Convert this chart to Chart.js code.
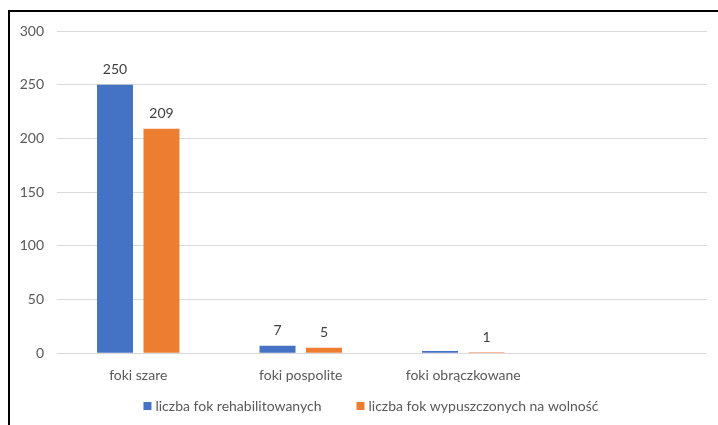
<!DOCTYPE html>
<html>
<head>
<meta charset="utf-8">
<script src="https://cdn.jsdelivr.net/npm/chart.js@4.4.0/dist/chart.umd.min.js"></script>
<style>
  html, body { margin: 0; padding: 0; background: #fff; }
  #wrap { width: 718px; height: 425px; position: relative; }
</style>
</head>
<body>
<div id="wrap"><canvas id="sealChart"></canvas></div>
<script>
const categories = ["foki szare", "foki pospolite", "foki obrączkowane", ""];
const rehabilitated = [250, 7, 2, null];
const released = [209, 5, 1, null];
// which bars get a value label on top
const rehabLabelled = [true, true, false, false];
const releasedLabelled = [true, true, true, false];
const yTicks = [0, 50, 100, 150, 200, 250, 300];

const FONT = "Lato, 'Open Sans', sans-serif";

// thin black frame on the top and left edge
const framePlugin = {
  id: "frame",
  afterDraw(chart) {
    const ctx = chart.ctx;
    ctx.save();
    ctx.strokeStyle = "#000";
    ctx.lineWidth = 2;
    ctx.beginPath();
    ctx.moveTo(9, chart.height);
    ctx.lineTo(9, 11);
    ctx.lineTo(chart.width, 11);
    ctx.stroke();
    ctx.restore();
  },
};

// value labels above bars
const valueLabels = {
  id: "valueLabels",
  afterDatasetsDraw(chart) {
    const ctx = chart.ctx;
    const flags = [rehabLabelled, releasedLabelled];
    ctx.save();
    ctx.font = "14px " + FONT;
    ctx.fillStyle = "#404040";
    ctx.textAlign = "center";
    ctx.textBaseline = "bottom";
    chart.data.datasets.forEach((ds, i) => {
      chart.getDatasetMeta(i).data.forEach((bar, j) => {
        if (ds.data[j] == null || !flags[i][j]) return;
        ctx.fillText(ds.data[j], bar.x, bar.y - 8);
      });
    });
    ctx.restore();
  },
};

// legend row under the axis, wider gap between entries than the built-in one
const bottomLegend = {
  id: "bottomLegend",
  afterDraw(chart) {
    const ctx = chart.ctx;
    const ds = chart.data.datasets;
    const box = 8, gap = 4, spacing = 35;
    ctx.save();
    ctx.font = "14px " + FONT;
    ctx.textBaseline = "middle";
    const widths = ds.map((d) => ctx.measureText(d.label).width);
    const total = widths.reduce((a, w) => a + box + gap + w, 0) + spacing * (ds.length - 1);
    let x = 371 - total / 2;
    const y = 406;
    ds.forEach((d, i) => {
      ctx.fillStyle = d.backgroundColor;
      ctx.fillRect(x, y - box / 2, box, box);
      x += box + gap;
      ctx.fillStyle = "#595959";
      ctx.fillText(d.label, x, y);
      x += widths[i] + spacing;
    });
    ctx.restore();
  },
};

const ctx = document.getElementById("sealChart").getContext("2d");
new Chart(ctx, {
  type: "bar",
  data: {
    labels: categories,
    datasets: [
      {
        label: "liczba fok rehabilitowanych",
        data: rehabilitated,
        backgroundColor: "#4472c4",
        borderWidth: 0,
      },
      {
        label: "liczba fok wypuszczonych na wolność",
        data: released,
        backgroundColor: "#ed7d31",
        borderWidth: 0,
      },
    ],
  },
  options: {
    responsive: true,
    maintainAspectRatio: false,
    animation: false,
    datasets: {
      bar: {
        categoryPercentage: 0.572,
        barPercentage: 0.774,
      },
    },
    layout: {
      padding: { left: 0, right: 11, top: 31, bottom: 35 },
    },
    plugins: {
      legend: { display: false },
      tooltip: { enabled: false },
    },
    scales: {
      y: {
        min: 0,
        max: 300,
        afterFit(scale) {
          scale.width = 57;
        },
        afterBuildTicks(scale) {
          scale.ticks = yTicks.map((v) => ({ value: v }));
        },
        border: { display: false },
        grid: {
          color: "#d9d9d9",
          drawTicks: false,
        },
        ticks: {
          padding: 13,
          color: "#595959",
          font: { family: FONT, size: 14 },
        },
      },
      x: {
        border: { display: false },
        grid: { display: false },
        ticks: {
          padding: 6,
          color: "#595959",
          font: { family: FONT, size: 14 },
        },
      },
    },
  },
  plugins: [framePlugin, valueLabels, bottomLegend],
});
</script>
</body>
</html>
